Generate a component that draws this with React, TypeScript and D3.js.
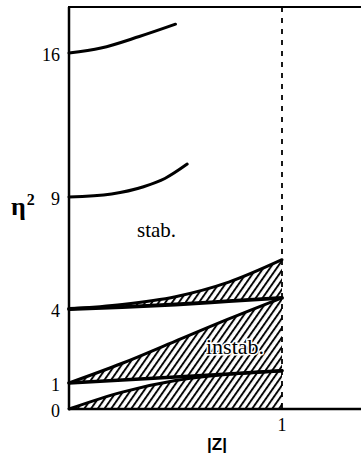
import { useEffect, useRef } from 'react';
import * as d3 from 'd3';

// |Z| sample points and eta^2 values
const zGrid = [0, 0.25, 0.5, 0.75, 1];
const band0Lower = [0, 0, 0, 0, 0];
const band0Upper = [0, 0.65, 1.1, 1.35, 1.5];
const band1Lower = [1, 1.12, 1.24, 1.37, 1.5];
const band1Upper = [1, 1.8, 2.7, 3.6, 4.5];
const band4Lower = [4, 4.08, 4.2, 4.35, 4.5];
const band4Upper = [4, 4.2, 4.55, 5.2, 6.2];

const curve9Z = [0, 0.2, 0.35, 0.45, 0.555];
const curve9Eta = [9, 9.15, 9.5, 9.9, 10.6];
const curve16Z = [0, 0.15, 0.33, 0.5];
const curve16Eta = [16, 16.24, 16.8, 17.4];

const yTicks = [0, 1, 4, 9, 16];
const xTicks = [1];

function App() {
  const svgRef = useRef<SVGSVGElement>(null);

  useEffect(() => {
    if (!svgRef.current) return;
    const svg = d3.select(svgRef.current);
    svg.selectAll('*').remove();

    const W = 361;
    const H = 458;
    svg.attr('width', W).attr('height', H);

    const x = d3.scaleLinear().domain([0, 1]).range([69, 282]);
    // the printed axis is not quite linear, so use a piecewise scale through the ticks
    const y = d3.scaleLinear().domain(yTicks).range([409, 383, 309, 197, 53]);
    const xMax = x.invert(W);
    const yMax = y.invert(7);

    const defs = svg.append('defs');
    const pat = defs.append('pattern')
      .attr('id', 'hatch')
      .attr('patternUnits', 'userSpaceOnUse')
      .attr('width', 5.5)
      .attr('height', 6)
      .attr('patternTransform', 'rotate(35)');
    pat.append('line')
      .attr('x1', 1).attr('y1', 0).attr('x2', 1).attr('y2', 6)
      .attr('stroke', '#000')
      .attr('stroke-width', 1.9);

    const bands = [
      [band0Lower, band0Upper],
      [band1Lower, band1Upper],
      [band4Lower, band4Upper],
    ];

    const area = d3.area<number>()
      .x((_, i) => x(zGrid[i]))
      .curve(d3.curveMonotoneX);

    bands.forEach(([lo, hi]) => {
      svg.append('path')
        .datum(zGrid)
        .attr('fill', 'url(#hatch)')
        .attr('d', area.y0((_, i) => y(lo[i])).y1((_, i) => y(hi[i])));
    });

    const line = d3.line<[number, number]>()
      .x(d => x(d[0]))
      .y(d => y(d[1]))
      .curve(d3.curveMonotoneX);

    const drawCurve = (zs: number[], es: number[], w: number) => {
      svg.append('path')
        .datum(zs.map((z, i) => [z, es[i]] as [number, number]))
        .attr('fill', 'none')
        .attr('stroke', '#000')
        .attr('stroke-width', w)
        .attr('stroke-linecap', 'round')
        .attr('d', line);
    };

    drawCurve(zGrid, band0Upper, 3);
    drawCurve(zGrid, band1Lower, 3.5);
    drawCurve(zGrid, band1Upper, 3);
    drawCurve(zGrid, band4Lower, 3.8);
    drawCurve(zGrid, band4Upper, 3);
    drawCurve(curve9Z, curve9Eta, 3);
    drawCurve(curve16Z, curve16Eta, 3);

    // frame
    svg.append('line')
      .attr('x1', x(0)).attr('x2', x(0))
      .attr('y1', y(yMax)).attr('y2', y(0))
      .attr('stroke', '#000').attr('stroke-width', 2.5);
    svg.append('line')
      .attr('x1', x(0)).attr('x2', x(xMax))
      .attr('y1', y(0)).attr('y2', y(0))
      .attr('stroke', '#000').attr('stroke-width', 2.5);
    svg.append('line')
      .attr('x1', x(0) - 1).attr('x2', x(xMax))
      .attr('y1', y(yMax)).attr('y2', y(yMax))
      .attr('stroke', '#000').attr('stroke-width', 2.2);

    // |Z| = 1 boundary
    svg.append('line')
      .attr('x1', x(1)).attr('x2', x(1))
      .attr('y1', y(yMax)).attr('y2', y(0))
      .attr('stroke', '#000').attr('stroke-width', 1.8)
      .attr('stroke-dasharray', '5,6');

    const serif = '"Liberation Serif", "Times New Roman", serif';

    svg.append('g').selectAll('text')
      .data(yTicks)
      .join('text')
      .attr('x', 60)
      .attr('y', d => y(d) + 2)
      .attr('dy', '0.35em')
      .attr('text-anchor', 'end')
      .attr('font-family', serif)
      .attr('font-size', 18)
      .text(d => `${d}`);

    svg.append('g').selectAll('text')
      .data(xTicks)
      .join('text')
      .attr('x', d => x(d))
      .attr('y', 425)
      .attr('dy', '0.35em')
      .attr('text-anchor', 'middle')
      .attr('font-family', serif)
      .attr('font-size', 18)
      .text(d => `${d}`);

    svg.append('text')
      .attr('x', 217)
      .attr('y', 444)
      .attr('dy', '0.35em')
      .attr('text-anchor', 'middle')
      .attr('font-family', '"Liberation Sans", Arial, sans-serif')
      .attr('font-weight', 'bold')
      .attr('font-size', 17)
      .text('|Z|');

    const eta = svg.append('text')
      .attr('x', 11)
      .attr('y', 215)
      .attr('font-family', serif)
      .attr('font-weight', 'bold')
      .attr('font-size', 26);
    eta.append('tspan').text('η');
    eta.append('tspan')
      .attr('font-size', 16)
      .attr('dx', 1)
      .attr('dy', -10)
      .text('2');

    svg.append('text')
      .attr('x', 137)
      .attr('y', 237)
      .attr('font-family', serif)
      .attr('font-size', 21)
      .text('stab.');

    svg.append('text')
      .attr('x', 206)
      .attr('y', 354)
      .attr('font-family', serif)
      .attr('font-size', 22)
      .attr('fill', '#000')
      .attr('stroke', '#fff')
      .attr('stroke-width', 3)
      .attr('paint-order', 'stroke')
      .text('instab.');
  }, []);

  return (
    <svg ref={svgRef} style={{ position: 'absolute', left: 0, top: 0, background: '#fff' }}></svg>
  );
}

export default App;
